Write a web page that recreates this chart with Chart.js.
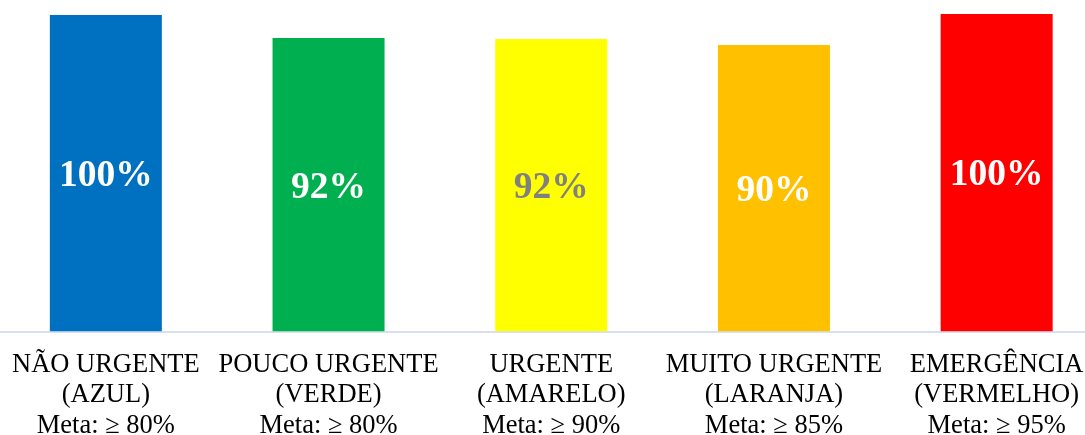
<!DOCTYPE html>
<html>
<head>
<meta charset="utf-8">
<script src="https://cdn.jsdelivr.net/npm/chart.js@4/dist/chart.umd.min.js"></script>
<style>
  html, body { margin: 0; padding: 0; background: #fff; overflow: hidden; }
  #wrap { position: absolute; left: -6px; top: 0; width: 1114px; height: 459px; }
</style>
</head>
<body>
<div id="wrap"><canvas id="chart"></canvas></div>
<script>
// categories (multi-line tick labels)
const categories = [
  ['NÃO URGENTE', '(AZUL)', 'Meta: ≥ 80%'],
  ['POUCO URGENTE', '(VERDE)', 'Meta: ≥ 80%'],
  ['URGENTE', '(AMARELO)', 'Meta: ≥ 90%'],
  ['MUITO URGENTE', '(LARANJA)', 'Meta: ≥ 85%'],
  ['EMERGÊNCIA', '(VERMELHO)', 'Meta: ≥ 95%']
];
// percentage reached per class
const values = [99.7, 92.4, 92.1, 90.2, 100];
const barColors = ['#0070C0', '#00B050', '#FFFF00', '#FFC000', '#FF0000'];
const labelColors = ['#FFFFFF', '#FFFFFF', '#808080', '#FFFFFF', '#FFFFFF'];

// draws the value in the middle of each bar
const barLabels = {
  id: 'barLabels',
  afterDatasetsDraw(chart) {
    const ctx = chart.ctx;
    const meta = chart.getDatasetMeta(0);
    ctx.save();
    ctx.font = 'bold 37.5px "Liberation Serif", "Times New Roman", serif';
    ctx.textAlign = 'center';
    ctx.textBaseline = 'middle';
    meta.data.forEach((bar, i) => {
      ctx.fillStyle = labelColors[i];
      ctx.fillText(Math.round(values[i]) + '%', bar.x, (bar.y + bar.base) / 2 + 3);
    });
    ctx.restore();
  }
};

new Chart(document.getElementById('chart'), {
  type: 'bar',
  data: {
    labels: categories,
    datasets: [{
      data: values,
      backgroundColor: barColors,
      borderWidth: 0,
      barPercentage: 0.503,
      categoryPercentage: 1
    }]
  },
  options: {
    responsive: true,
    maintainAspectRatio: false,
    animation: false,
    layout: { padding: 0 },
    plugins: {
      legend: { display: false },
      tooltip: { enabled: false }
    },
    scales: {
      x: {
        grid: { color: 'transparent', drawTicks: false },
        border: { color: '#D6E0F0', width: 2 },
        ticks: {
          color: '#000',
          padding: 18,
          maxRotation: 0,
          autoSkip: false,
          font: { family: '"Liberation Serif", "Times New Roman", serif', size: 26.5, lineHeight: 1.15 }
        }
      },
      y: {
        display: false,
        min: 0,
        max: 104.4
      }
    }
  },
  plugins: [barLabels]
});
</script>
</body>
</html>
